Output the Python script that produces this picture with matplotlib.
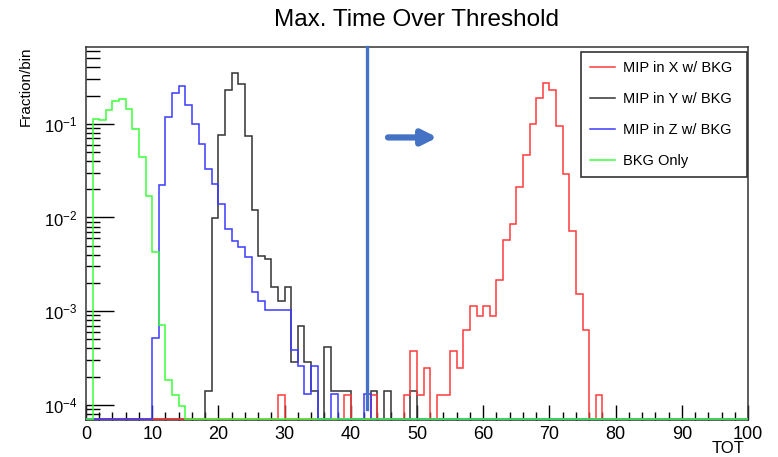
import numpy as np
import matplotlib
matplotlib.use('Agg')
import matplotlib.pyplot as plt
from matplotlib.ticker import LogLocator, MultipleLocator, NullFormatter

plt.rcParams['font.family'] = ['Liberation Sans', 'DejaVu Sans']
plt.rcParams['mathtext.default'] = 'regular'

# histogram: 100 bins of width 1 on TOT 0..100, values read per bin
n_bins = 100
bin_edges = np.arange(0, 101)

# MIP in X w/ BKG (bins 29..77)
x_start = 29
x_vals = [1.26e-4, 0, 0, 0, 0, 0, 0, 0, 0, 0,
          1.26e-4, 0, 0, 0, 1.26e-4, 0, 0, 0, 0,
          1.26e-4, 3.8e-4, 1.26e-4, 2.5e-4, 0, 1.26e-4, 1.26e-4,
          3.8e-4, 2.5e-4, 6.3e-4, 1.14e-3, 8.8e-4, 1.14e-3, 8.8e-4,
          2.15e-3, 5.7e-3, 8.6e-3, 0.021, 0.047, 0.10, 0.19, 0.275,
          0.23, 0.094, 0.029, 7.1e-3, 1.52e-3, 6.3e-4, 0, 1.26e-4]

# MIP in Y w/ BKG (bins 18..49)
y_start = 18
y_vals = [1.4e-4, 0.0098, 0.076, 0.23, 0.346, 0.267, 0.075, 0.012,
          0.0039, 0.0036, 1.8e-3, 1.27e-3, 1.8e-3, 2.85e-4, 7.0e-4,
          2.85e-4, 1.4e-4, 0, 4.1e-4, 1.4e-4, 1.4e-4, 1.4e-4, 0, 0, 0,
          1.4e-4, 0, 1.4e-4, 0, 0, 0, 1.4e-4]

# MIP in Z w/ BKG (bins 10..42)
z_start = 10
z_vals = [5.2e-4, 0.022, 0.117, 0.215, 0.254, 0.157, 0.10, 0.061,
          0.033, 0.0228, 0.0141, 0.0076, 0.0056, 0.0048, 0.0038,
          1.6e-3, 1.29e-3, 1.04e-3, 1.04e-3, 1.04e-3, 1.04e-3,
          3.9e-4, 2.6e-4, 1.31e-4, 2.6e-4, 0, 0, 1.31e-4, 0, 0, 0, 0,
          1.31e-4]

# BKG Only (bins 1..14)
bkg_start = 1
bkg_vals = [0.113, 0.11, 0.141, 0.176, 0.185, 0.145, 0.088, 0.044,
            0.017, 0.0043, 7.1e-4, 1.86e-4, 1.26e-4, 9.7e-5]

cut_x = 42.4
arrow_x = (45.2, 53.5)
arrow_y = 0.0715

y_lo, y_hi = 6.9e-5, 0.66


def full_hist(start, vals):
    h = np.zeros(n_bins)
    h[start:start + len(vals)] = vals
    # empty bins sit on the bottom of the log axis, as ROOT draws them
    return np.where(h > 0, h, y_lo * 1.02)


fig = plt.figure(figsize=(7.78, 4.57), dpi=100)
ax = fig.add_axes([86 / 778, 1 - 420 / 457, 662 / 778, 373 / 457])

lw = 1.1
h_y = ax.stairs(full_hist(y_start, y_vals), bin_edges, color='#333333', lw=lw, baseline=None, zorder=3, label='MIP in Y w/ BKG')
h_x = ax.stairs(full_hist(x_start, x_vals), bin_edges, color='#ff3b3b', lw=lw, baseline=None, zorder=3, label='MIP in X w/ BKG')
h_z = ax.stairs(full_hist(z_start, z_vals), bin_edges, color='#3b3bff', lw=lw, baseline=None, zorder=3, label='MIP in Z w/ BKG')
h_b = ax.stairs(full_hist(bkg_start, bkg_vals), bin_edges, color='#3bff3b', lw=lw, baseline=None, zorder=3, label='BKG Only')

ax.set_yscale('log')
ax.set_xlim(0, 100)
ax.set_ylim(y_lo, y_hi)

# cut line and arrow
ax.plot([cut_x, cut_x], [9e-5, y_hi], color='#4472C4', lw=2.4, clip_on=False, zorder=5)
ax.annotate('', xy=(arrow_x[1], arrow_y), xytext=(arrow_x[0], arrow_y),
            arrowprops=dict(arrowstyle='-|>', color='#4472C4', lw=4.5, mutation_scale=22))

ax.xaxis.set_major_locator(MultipleLocator(10))
ax.xaxis.set_minor_locator(MultipleLocator(2))
ax.yaxis.set_major_locator(LogLocator(base=10, numticks=10))
ax.yaxis.set_minor_locator(LogLocator(base=10, subs=np.arange(2, 10), numticks=20))
ax.yaxis.set_minor_formatter(NullFormatter())
ax.tick_params(axis='x', which='major', direction='in', length=11, width=1, labelsize=13, pad=4, top=False)
ax.tick_params(axis='x', which='minor', direction='in', length=6, width=1, top=False)
ax.tick_params(axis='y', which='major', direction='in', length=20, width=1, labelsize=12, pad=6, right=False)
ax.tick_params(axis='y', which='minor', direction='in', length=10, width=1, right=False)
for s in ax.spines.values():
    s.set_linewidth(1.1)
    s.set_color('#333333')

ax.set_xlabel('TOT', fontsize=12, ha='right', va='center')
ax.xaxis.set_label_coords(0.995, -0.077)
ax.set_ylabel('Fraction/bin', loc='top', fontsize=11, labelpad=8)
fig.suptitle('Max. Time Over Threshold', x=417 / 778, y=1 - 9 / 457, va='top', fontsize=17.5)

leg = ax.legend(handles=[h_x, h_y, h_z, h_b], loc='upper left',
                bbox_to_anchor=(581 / 778, 1 - 176 / 457, 166 / 778, 124 / 457),
                bbox_transform=fig.transFigure, mode='expand', borderaxespad=0,
                fontsize=10.5, handlelength=1.65, handletextpad=0.55,
                labelspacing=1.15, borderpad=0.65, fancybox=False, framealpha=1)
leg.get_frame().set_edgecolor('#333333')
leg.get_frame().set_linewidth(1.2)
for h in leg.legend_handles:
    h.set_linewidth(1.1)

fig.savefig('out.png', dpi=100)
